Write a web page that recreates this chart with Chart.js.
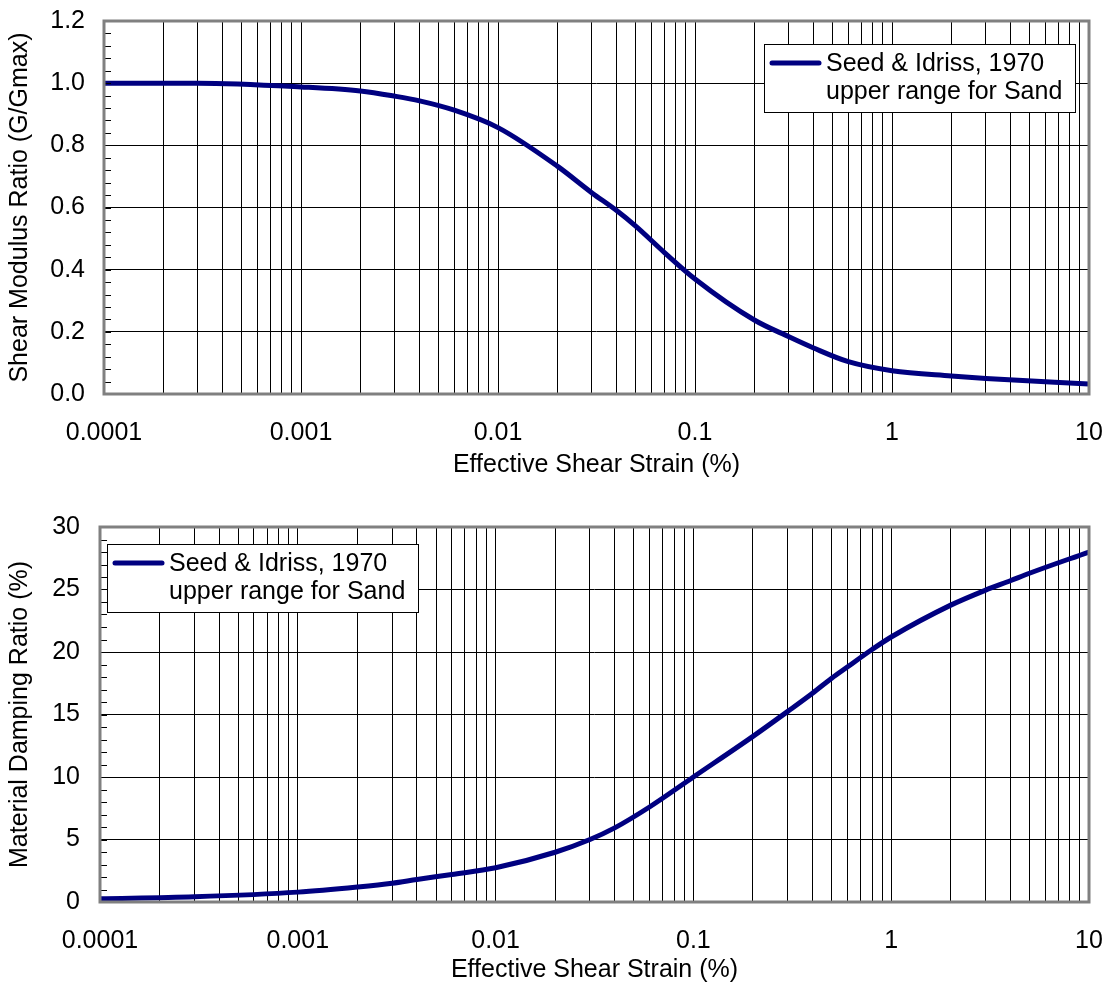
<!DOCTYPE html>
<html lang="en">
<head>
<meta charset="utf-8">
<title>Shear Modulus and Damping Curves</title>
<script src="https://cdn.jsdelivr.net/npm/chart.js@4.4.1/dist/chart.umd.min.js"></script>
<style>
  body { margin: 0; background: #fff; }
  #wrap { position: relative; width: 1103px; height: 983px; }
  #topChart { position: absolute; left: 0; top: 0; }
  #bottomChart { position: absolute; left: 0; top: 490px; }
</style>
</head>
<body>
<div id="wrap">
  <canvas id="topChart" width="1103" height="490"></canvas>
  <canvas id="bottomChart" width="1103" height="493"></canvas>
</div>
<script>
// strain values (%) and readings
var strainG = [0.0001, 0.0003, 0.001, 0.002, 0.003, 0.004, 0.006, 0.01, 0.02, 0.03, 0.04, 0.05, 0.07, 0.1, 0.2, 0.3, 0.4, 0.6, 1, 2, 3, 10];
var gRatio  = [1.0, 1.0, 0.988, 0.975, 0.958, 0.943, 0.913, 0.857, 0.733, 0.647, 0.59, 0.54, 0.455, 0.37, 0.238, 0.184, 0.148, 0.104, 0.075, 0.058, 0.05, 0.032];

var strainD = [0.0001, 0.0003, 0.001, 0.002, 0.003, 0.004, 0.006, 0.01, 0.02, 0.03, 0.04, 0.06, 0.1, 0.2, 0.3, 0.4, 0.5, 0.6, 0.8, 1, 2, 3, 4, 5, 10];
var damping = [0.26, 0.42, 0.79, 1.2, 1.5, 1.8, 2.2, 2.74, 3.98, 5.0, 5.93, 7.6, 10.0, 13.25, 15.25, 16.7, 17.9, 18.8, 20.2, 21.2, 23.75, 24.95, 25.7, 26.3, 28.0];

var legendLines = ['Seed & Idriss, 1970', 'upper range for Sand'];
var xTickLabels = ['0.0001', '0.001', '0.01', '0.1', '1', '10'];
var xTitle = 'Effective Shear Strain (%)';
var yTitleTop = 'Shear Modulus Ratio (G/Gmax)';
var yTitleBottom = 'Material Damping Ratio (%)';

var FONT = 'Liberation Sans, Arial, sans-serif';
var FONT_SIZE = 25;
var NAVY = '#000080';

function toPoints(xs, ys) {
    return xs.map(function (x, i) { return {x: x, y: ys[i]}; });
}

// gridline positions 1..9 x 10^n over the strain range
function logTicks() {
    var out = [];
    for (var e = -4; e <= 1; e++) {
        for (var m = 1; m <= 9; m++) {
            if (e === 1 && m > 1) break;
            out.push({value: m * Math.pow(10, e)});
        }
    }
    return out;
}

function decadeLabel(v) {
    var l = Math.log10(v);
    if (Math.abs(l - Math.round(l)) > 1e-6) return '';
    return xTickLabels[Math.round(l) + 4] || '';
}

// grey frame round the plot plus small inward ticks on the left axis
var framePlugin = {
    id: 'plotFrame',
    afterDatasetsDraw: function (chart, args, opts) {
        var ctx = chart.ctx, a = chart.chartArea, y = chart.scales.y;
        ctx.save();
        ctx.strokeStyle = '#000';
        ctx.lineWidth = 1;
        var n = Math.round((y.max - y.min) / opts.minorStep);
        for (var i = 1; i < n; i++) {
            var py = Math.round(y.getPixelForValue(y.min + i * opts.minorStep)) + 0.5;
            ctx.beginPath();
            ctx.moveTo(a.left, py);
            ctx.lineTo(a.left + 7, py);
            ctx.stroke();
        }
        ctx.strokeStyle = '#808080';
        ctx.lineWidth = 3;
        ctx.strokeRect(a.left, a.top, a.right - a.left, a.bottom - a.top);
        ctx.restore();
    }
};

// boxed two-line legend inside the plot area
var legendPlugin = {
    id: 'legendBox',
    afterDraw: function (chart, args, opts) {
        var ctx = chart.ctx, a = chart.chartArea;
        var w = 311, h = 68;
        var x = opts.side === 'right' ? a.right - opts.dx - w : a.left + opts.dx;
        var y = a.top + opts.dy;
        var ds = chart.data.datasets[0];
        ctx.save();
        ctx.fillStyle = '#fff';
        ctx.fillRect(x, y, w, h);
        ctx.strokeStyle = '#000';
        ctx.lineWidth = 1;
        ctx.strokeRect(Math.round(x) + 0.5, Math.round(y) + 0.5, w, h);
        ctx.strokeStyle = ds.borderColor;
        ctx.lineWidth = ds.borderWidth;
        ctx.lineCap = 'round';
        ctx.beginPath();
        ctx.moveTo(x + 8, y + 19);
        ctx.lineTo(x + 55, y + 19);
        ctx.stroke();
        ctx.fillStyle = '#000';
        ctx.font = FONT_SIZE + 'px ' + FONT;
        ctx.textBaseline = 'middle';
        ctx.textAlign = 'left';
        ds.label.forEach(function (line, i) {
            ctx.fillText(line, x + 62, y + 20 + i * 28.5);
        });
        ctx.restore();
    }
};

function makeChart(id, cfg) {
    var ctx = document.getElementById(id).getContext('2d');
    return new Chart(ctx, {
        type: 'line',
        data: {
            datasets: [{
                label: legendLines,
                data: cfg.points,
                borderColor: NAVY,
                borderWidth: 5,
                pointRadius: 0,
                fill: false,
                cubicInterpolationMode: 'monotone'
            }]
        },
        options: {
            responsive: false,
            animation: false,
            devicePixelRatio: 1,
            layout: { padding: { top: cfg.padTop, right: 14, left: 0, bottom: 0 } },
            plugins: {
                legend: { display: false },
                tooltip: { enabled: false },
                plotFrame: { minorStep: cfg.minorStep },
                legendBox: cfg.legend
            },
            scales: {
                x: {
                    type: 'logarithmic',
                    min: 0.0001,
                    max: 10,
                    afterBuildTicks: function (scale) { scale.ticks = logTicks(); },
                    afterFit: function (scale) {
                        scale.height = cfg.xHeight;
                        scale.paddingLeft = 0;
                        scale.paddingRight = 0;
                    },
                    border: { display: false },
                    grid: { color: '#000', lineWidth: 1, drawTicks: false },
                    ticks: {
                        autoSkip: false,
                        maxRotation: 0,
                        padding: 24,
                        color: '#000',
                        font: { family: FONT, size: FONT_SIZE },
                        callback: function (v) { return decadeLabel(v); }
                    },
                    title: {
                        display: true,
                        text: xTitle,
                        color: '#000',
                        font: { family: FONT, size: FONT_SIZE, lineHeight: 1 },
                        padding: { top: 0, bottom: cfg.xTitlePad }
                    }
                },
                y: {
                    min: 0,
                    max: cfg.yMax,
                    afterFit: function (scale) {
                        scale.width = cfg.yWidth;
                        scale.paddingTop = 0;
                        scale.paddingBottom = 0;
                    },
                    border: { display: false },
                    grid: { color: '#000', lineWidth: 1, drawTicks: false },
                    ticks: {
                        stepSize: cfg.yStep,
                        padding: cfg.yPad,
                        color: '#000',
                        font: { family: FONT, size: FONT_SIZE },
                        callback: cfg.yFormat
                    },
                    title: {
                        display: true,
                        text: cfg.yTitle,
                        color: '#000',
                        font: { family: FONT, size: FONT_SIZE, lineHeight: 1 },
                        padding: { top: 8, bottom: 0 }
                    }
                }
            }
        },
        plugins: [framePlugin, legendPlugin]
    });
}

makeChart('topChart', {
    points: toPoints(strainG, gRatio),
    padTop: 21,
    xHeight: 96,
    xTitlePad: 12,
    yWidth: 104,
    yMax: 1.2,
    yStep: 0.2,
    yPad: 19,
    minorStep: 0.04,
    yTitle: yTitleTop,
    yFormat: function (v) { return v.toFixed(1); },
    legend: { side: 'right', dx: 14, dy: 23 }
});

makeChart('bottomChart', {
    points: toPoints(strainD, damping),
    padTop: 37,
    xHeight: 81,
    xTitlePad: 0,
    yWidth: 100,
    yMax: 30,
    yStep: 5,
    yPad: 20,
    minorStep: 1,
    yTitle: yTitleBottom,
    yFormat: function (v) { return String(v); },
    legend: { side: 'left', dx: 7, dy: 17 }
});
</script>
</body>
</html>
